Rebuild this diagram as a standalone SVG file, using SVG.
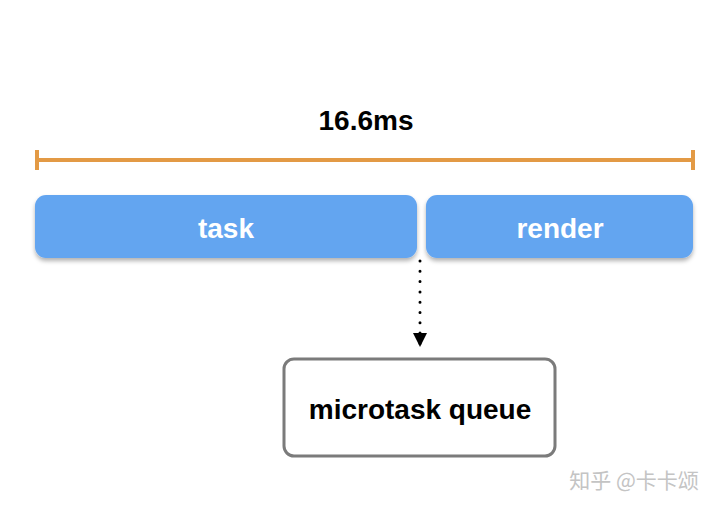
<svg xmlns="http://www.w3.org/2000/svg" width="720" height="510" viewBox="0 0 720 510">
<style>
.lbl{font-family:"Liberation Sans",Arial,sans-serif;font-weight:bold;font-size:28px;text-anchor:middle}
.blue{fill:#63a5f0}
</style>
<defs>
<filter id="sh" x="-5%" y="-20%" width="110%" height="150%">
<feDropShadow dx="0" dy="3" stdDeviation="2" flood-color="#000" flood-opacity="0.3"/>
</filter>
<marker id="ah" viewBox="0 0 14 14" markerWidth="14" markerHeight="14" refX="14" refY="7" orient="auto" markerUnits="userSpaceOnUse">
<path d="M0,0 L14,7 L0,14 Z" fill="#000"/>
</marker>
</defs>
<rect width="720" height="510" fill="#fff"/>
<g id="timeline">
<text class="lbl" x="366" y="130" fill="#000">16.6ms</text>
<line x1="37" y1="160" x2="693" y2="160" stroke="#e39a45" stroke-width="4"/>
<line x1="37" y1="150" x2="37" y2="170" stroke="#e39a45" stroke-width="4"/>
<line x1="693" y1="150" x2="693" y2="170" stroke="#e39a45" stroke-width="4"/>
</g>
<g id="task">
<rect class="blue" x="35" y="195" width="382" height="63" rx="11" filter="url(#sh)"/>
<text class="lbl" x="226" y="238" fill="#fff">task</text>
</g>
<g id="render">
<rect class="blue" x="426" y="195" width="267" height="63" rx="11" filter="url(#sh)"/>
<text class="lbl" x="560" y="238" fill="#fff">render</text>
</g>
<g id="microtask">
<rect x="284" y="359" width="271" height="97" rx="10" fill="#fff" stroke="#7b7b7b" stroke-width="3"/>
<text class="lbl" x="420" y="419" fill="#000">microtask queue</text>
</g>
<g id="connectors">
<line x1="420" y1="261" x2="420" y2="347" stroke="#000" stroke-width="3" stroke-linecap="round" stroke-dasharray="0 10.3" marker-end="url(#ah)"/>
</g>
<text x="634" y="488" font-family="'Noto Sans CJK SC',sans-serif" font-size="21" fill="#c4c4c4" text-anchor="middle">知乎 @卡卡颂</text>
</svg>
